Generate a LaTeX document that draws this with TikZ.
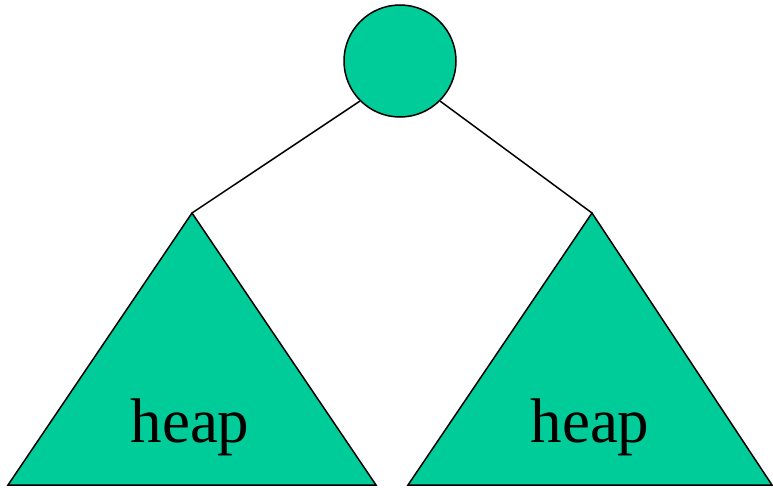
\documentclass[tikz,border=0pt]{standalone}
\usepackage{fontspec}
\setmainfont{Liberation Serif}
\definecolor{heapgreen}{HTML}{00CC99}
\begin{document}
\begin{tikzpicture}[x=1pt,y=-1pt,
  shape fill/.style={fill=heapgreen,draw=black,line width=1.5pt,line join=miter},
  edge/.style={draw=black,line width=1.5pt},
  heaplabel/.style={font=\fontsize{63}{63}\selectfont,anchor=base,inner sep=0pt}]
\useasboundingbox (0,0) rectangle (773,487);
\coordinate (la) at (192,213);
\coordinate (ll) at (8,485);
\coordinate (lr) at (376,485);
\coordinate (ra) at (592,213);
\coordinate (rl) at (408,485);
\coordinate (rr) at (772,485);
\node[circle,shape fill,minimum size=112pt,inner sep=0pt] (root) at (400,61) {};
\draw[edge] (root.225) -- (la);
\draw[edge] (root.-45) -- (ra);
\path[shape fill] (la) -- (ll) -- (lr) -- cycle;
\path[shape fill] (ra) -- (rl) -- (rr) -- cycle;
\node[heaplabel] (lh) at (190,442) {heap};
\node[heaplabel] (rh) at (590,442) {heap};
\end{tikzpicture}
\end{document}
